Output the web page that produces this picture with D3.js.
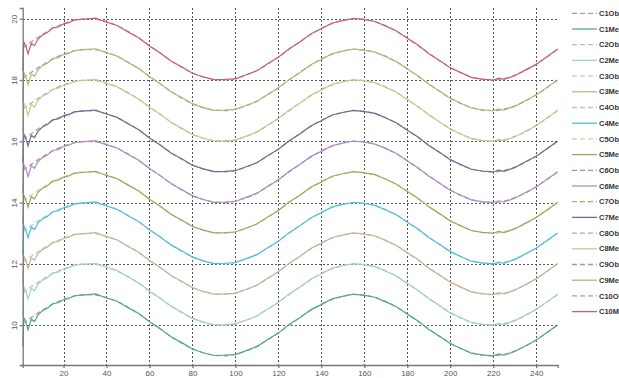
<!DOCTYPE html>
<html>
<head>
<meta charset="utf-8">
<script src="https://cdn.jsdelivr.net/npm/d3@7"></script>
<style>
  body { margin: 0; background: #fff; }
  svg { display: block; }
</style>
</head>
<body>
<div id="chart"></div>
<script>
const width = 619, height = 378;

// curve numbers and the level each curve swings around
const curves = [1, 2, 3, 4, 5, 6, 7, 8, 9, 10];
const levels = [10, 11, 12, 13, 14, 15, 16, 17, 18, 19];

const measX = [1, 1.5, 2.5, 3.5, 5, 6.5, 8, 10, 12.5, 15, 17.5, 20, 22.5, 25, 30, 35, 37.5, 40, 45, 50, 55, 60, 65, 70,
  75, 80, 85, 90, 95, 100, 105, 110, 115, 120, 125, 130, 135, 140, 145, 150, 155, 160, 165,
  170, 175, 180, 185, 190, 195, 200, 205, 210, 215, 220, 222.5, 225, 230, 235, 240, 245, 250];
const measY = [-0.7, 0.25, 0.1, -0.15, 0.2, 0.12, 0.32, 0.46, 0.55, 0.70, 0.73, 0.83, 0.87, 0.96, 0.99, 1.02, 0.95, 0.89,
  0.78, 0.57, 0.38, 0.11, -0.12, -0.38, -0.57, -0.78, -0.90, -0.99, -0.98, -0.96, -0.83, -0.70,
  -0.47, -0.26, 0.02, 0.24, 0.50, 0.67, 0.86, 0.94, 1.01, 0.97, 0.91, 0.76, 0.60, 0.36, 0.14,
  -0.14, -0.36, -0.60, -0.76, -0.92, -0.97, -1.0, -0.94, -0.98, -0.86, -0.67, -0.49, -0.24, 0.01];

// smooth fitted profile
const fitX = [1, 5, 10, 15, 20, 25, 30, 35, 40, 45, 50, 55, 60, 65, 70, 75, 80, 85, 90, 95, 100,
  105, 110, 115, 120, 125, 130, 135, 140, 145, 150, 155, 160, 165, 170, 175, 180, 185, 190, 195,
  200, 205, 210, 215, 220, 225, 230, 235, 240, 245, 250];
const fitY = [0.05, 0.25, 0.48, 0.69, 0.84, 0.95, 1.0, 0.98, 0.9, 0.77, 0.59, 0.37, 0.12, -0.12,
  -0.37, -0.59, -0.77, -0.9, -0.98, -1.0, -0.95, -0.84, -0.69, -0.48, -0.25, 0, 0.25, 0.48, 0.69,
  0.84, 0.95, 1.0, 0.98, 0.9, 0.77, 0.59, 0.37, 0.12, -0.12, -0.37, -0.59, -0.77, -0.9, -0.98,
  -1.0, -0.95, -0.84, -0.69, -0.48, -0.25, 0];

const objColors = ["#96a49c", "#d8b0a0", "#c6c6bc", "#b0c8d0", "#ccd0a0",
                   "#d07c90", "#a4b070", "#acacac", "#a88cc4", "#c890a0"];
const measColors = ["#54a888", "#98d4d0", "#c8b098", "#4cc0d8", "#98a860",
                    "#a490cc", "#6a6a9c", "#c0d08c", "#b0bc70", "#c06474"];

const xTicks = [20, 40, 60, 80, 100, 120, 140, 160, 180, 200, 220, 240];
const yTicks = [10, 12, 14, 16, 18, 20];

const x = d3.scaleLinear().domain([1, 250]).range([22.7, 557.7]);
const y = d3.scaleLinear().domain([8.7, 20.35]).range([365, 8]);

const svg = d3.select("#chart").append("svg")
  .attr("width", width)
  .attr("height", height);

// grid
const grid = svg.append("g")
  .attr("stroke", "#555")
  .attr("stroke-width", 1)
  .attr("stroke-dasharray", "2,2");
grid.selectAll("line.v").data(xTicks).enter().append("line")
  .attr("class", "v")
  .attr("x1", (d) => Math.round(x(d)) + 0.5).attr("x2", (d) => Math.round(x(d)) + 0.5)
  .attr("y1", 8).attr("y2", 365);
grid.selectAll("line.h").data(yTicks).enter().append("line")
  .attr("class", "h")
  .attr("y1", (d) => Math.round(y(d)) + 0.5).attr("y2", (d) => Math.round(y(d)) + 0.5)
  .attr("x1", 23).attr("x2", 557);

// series, in legend order
const series = [];
curves.forEach((c, i) => {
  series.push({
    name: "C" + c + "Obj", dashed: true, color: objColors[i],
    values: fitX.map((xv, j) => [xv, levels[i] + fitY[j]]),
  });
  series.push({
    name: "C" + c + "Meas", dashed: false, color: measColors[i],
    values: measX.map((xv, j) => [xv, levels[i] + measY[j]]),
  });
});

const line = d3.line()
  .x((d) => x(d[0]))
  .y((d) => y(d[1]));

svg.append("g").selectAll("path").data(series).enter().append("path")
  .attr("d", (d) => line.curve(d.dashed ? d3.curveMonotoneX : d3.curveLinear)(d.values))
  .attr("fill", "none")
  .attr("stroke", (d) => d.color)
  .attr("stroke-width", 1.2)
  .attr("stroke-dasharray", (d) => d.dashed ? "5,3" : null);

// axes
const xAxis = svg.append("g")
  .attr("transform", "translate(0,365)")
  .call(d3.axisBottom(x).tickValues(xTicks).tickSize(3).tickPadding(2));
const yAxis = svg.append("g")
  .attr("transform", "translate(22.7,0)")
  .call(d3.axisLeft(y).tickValues(yTicks).tickSize(3).tickPadding(2));

[xAxis, yAxis].forEach((a) => {
  a.selectAll("path, line").attr("stroke", "#777").attr("stroke-width", 1.3);
  a.selectAll("text")
    .attr("fill", "#555")
    .style("font-family", "Arial, sans-serif")
    .style("font-size", "8px");
});
yAxis.selectAll("text")
  .attr("x", 0).attr("dy", 0)
  .attr("text-anchor", "middle")
  .attr("transform", "translate(-8,0) rotate(-90)")
  .attr("dominant-baseline", "middle");

// legend (labels run past the right edge, as in the original)
const legend = svg.append("g").selectAll("g").data(series).enter().append("g")
  .attr("transform", (d, i) => `translate(572,${13.3 + i * 15.7})`);
legend.append("line")
  .attr("x1", 0).attr("x2", 25)
  .attr("stroke", (d) => d.color)
  .attr("stroke-width", 1.3)
  .attr("stroke-dasharray", (d) => d.dashed ? "5,3" : null);
legend.append("text")
  .attr("x", 27).attr("dy", "0.35em")
  .text((d) => d.name)
  .attr("fill", "#333")
  .style("font-family", "Arial, sans-serif")
  .style("font-size", "7.5px")
  .style("font-weight", "bold");
</script>
</body>
</html>
